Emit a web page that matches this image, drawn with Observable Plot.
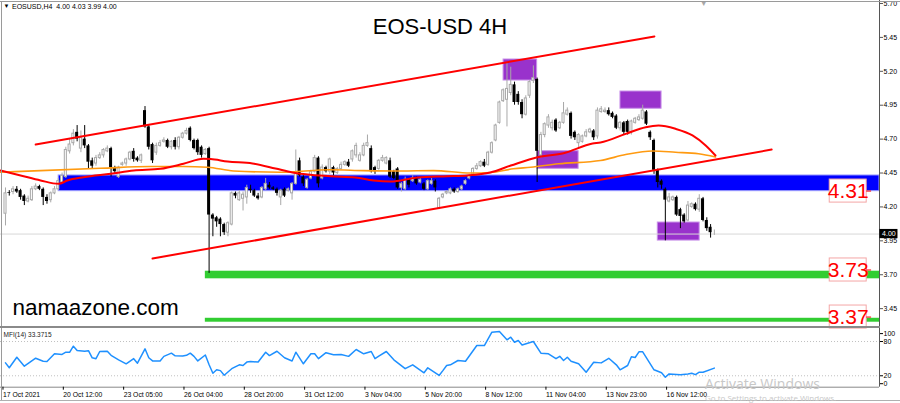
<!DOCTYPE html>
<html><head><meta charset="utf-8">
<script src="https://cdn.jsdelivr.net/npm/d3@7"></script>
<script src="https://cdn.jsdelivr.net/npm/@observablehq/plot@0.6"></script>
<style>
body{margin:0;background:#fff;}
#wrap{position:relative;width:900px;height:403px;overflow:hidden;background:#fff;font-family:"Liberation Sans",Arial,sans-serif;}
#wrap svg{position:absolute;left:0;}
.ln{position:absolute;background:#9a9a9a;}
.wm{position:absolute;color:#c8c8c8;font-family:"Open Sans","Noto Sans",sans-serif;white-space:nowrap;}
</style></head><body><div id="wrap"></div>
<script>
// ---- candle data (EOSUSD H4) ----
const open = [4.15,4.305,4.31,4.33,4.32,4.28,4.24,4.25,4.33,4.35,
4.33,4.27,4.25,4.30,4.33,4.38,4.42,4.61,4.67,4.75,
4.63,4.70,4.65,4.54,4.52,4.56,4.58,4.61,4.63,4.49,
4.42,4.51,4.52,4.55,4.61,4.56,4.54,4.91,4.79,4.66,
4.60,4.65,4.68,4.69,4.64,4.69,4.64,4.71,4.74,4.78,
4.69,4.69,4.64,4.59,4.63,4.14,4.12,4.11,4.07,4.01,
4.07,4.30,4.25,4.26,4.27,4.33,4.32,4.28,4.27,4.33,
4.36,4.34,4.33,4.27,4.33,4.32,4.30,4.37,4.54,4.42,
4.34,4.41,4.46,4.56,4.41,4.49,4.46,4.49,4.45,4.48,
4.51,4.53,4.55,4.58,4.54,4.58,4.65,4.63,4.49,4.48,
4.54,4.52,4.54,4.46,4.48,4.34,4.33,4.40,4.39,4.41,
4.38,4.37,4.33,4.37,4.39,4.19,4.27,4.30,4.30,4.33,
4.31,4.33,4.37,4.41,4.44,4.48,4.50,4.53,4.51,4.60,
4.69,4.82,4.98,4.99,5.04,5.10,5.03,4.97,4.88,5.02,
5.13,5.14,4.58,4.73,4.80,4.78,4.84,4.78,4.82,4.88,
4.89,4.75,4.67,4.68,4.72,4.75,4.76,4.72,4.90,4.90,
4.91,4.89,4.87,4.78,4.82,4.83,4.75,4.82,4.84,4.85,
4.90,4.75,4.69,4.47,4.39,4.33,4.24,4.25,4.27,4.18,
4.14,4.10,4.20,4.22,4.18,4.26,4.10,4.05,4.00];
const high = [4.34,4.32,4.35,4.35,4.33,4.29,4.28,4.35,4.37,4.36,
4.34,4.29,4.31,4.35,4.41,4.45,4.64,4.70,4.77,4.80,
4.76,4.80,4.66,4.56,4.58,4.60,4.63,4.65,4.64,4.50,
4.50,4.53,4.56,4.61,4.63,4.57,4.59,4.94,4.80,4.67,
4.67,4.69,4.71,4.70,4.69,4.71,4.72,4.75,4.78,4.79,
4.70,4.70,4.65,4.63,4.64,4.15,4.13,4.12,4.08,4.09,
4.31,4.31,4.32,4.31,4.36,4.36,4.33,4.30,4.35,4.41,
4.38,4.35,4.34,4.33,4.34,4.34,4.38,4.62,4.56,4.43,
4.41,4.47,4.58,4.57,4.51,4.50,4.56,4.50,4.49,4.53,
4.54,4.55,4.62,4.67,4.60,4.67,4.73,4.65,4.50,4.55,
4.58,4.57,4.56,4.47,4.49,4.38,4.42,4.41,4.43,4.42,
4.41,4.38,4.40,4.41,4.40,4.27,4.30,4.32,4.34,4.34,
4.34,4.36,4.40,4.44,4.49,4.52,4.54,4.55,4.61,4.68,
4.81,4.98,5.07,5.26,5.23,5.12,5.05,4.99,5.02,5.13,
5.24,5.15,4.75,4.82,4.88,4.84,4.85,4.83,4.97,4.93,
4.90,4.76,4.74,4.73,4.77,4.78,4.77,4.93,4.94,4.93,
4.93,4.90,4.88,4.83,4.83,4.84,4.84,4.86,4.88,4.95,
4.91,4.76,4.70,4.48,4.40,4.34,4.30,4.28,4.28,4.19,
4.15,4.24,4.23,4.23,4.29,4.27,4.12,4.07,4.03];
const low = [4.06,4.28,4.29,4.30,4.25,4.21,4.23,4.24,4.32,4.32,
4.21,4.22,4.23,4.29,4.32,4.37,4.41,4.59,4.65,4.68,
4.60,4.63,4.48,4.48,4.50,4.55,4.56,4.60,4.42,4.44,
4.41,4.50,4.50,4.54,4.53,4.53,4.52,4.78,4.62,4.52,
4.58,4.64,4.67,4.63,4.62,4.62,4.62,4.70,4.73,4.68,
4.62,4.58,4.56,4.58,3.71,3.98,4.05,3.98,3.99,3.98,
4.06,4.26,4.24,4.17,4.22,4.30,4.27,4.25,4.26,4.32,
4.33,4.32,4.28,4.21,4.27,4.31,4.25,4.36,4.42,4.35,
4.33,4.40,4.45,4.34,4.40,4.45,4.44,4.43,4.44,4.47,
4.50,4.49,4.53,4.56,4.53,4.57,4.64,4.45,4.44,4.47,
4.53,4.51,4.41,4.40,4.33,4.31,4.32,4.34,4.38,4.36,
4.37,4.32,4.32,4.36,4.31,4.18,4.26,4.29,4.29,4.30,
4.30,4.32,4.36,4.40,4.43,4.47,4.49,4.49,4.50,4.59,
4.68,4.81,4.97,4.79,5.02,4.95,4.95,4.85,4.87,5.00,
5.11,4.38,4.56,4.71,4.78,4.76,4.75,4.77,4.81,4.87,
4.70,4.69,4.63,4.67,4.71,4.74,4.69,4.70,4.89,4.89,
4.87,4.85,4.77,4.76,4.73,4.73,4.73,4.81,4.83,4.84,
4.80,4.69,4.44,4.34,4.33,3.95,4.23,4.24,4.13,4.04,
4.08,4.09,4.19,4.17,4.16,4.09,4.02,3.97,3.99];
const close = [4.30,4.30,4.33,4.31,4.27,4.24,4.26,4.33,4.35,4.33,
4.27,4.24,4.30,4.33,4.39,4.43,4.62,4.66,4.74,4.70,
4.71,4.65,4.53,4.50,4.56,4.58,4.62,4.63,4.49,4.46,
4.49,4.52,4.55,4.60,4.55,4.54,4.58,4.79,4.64,4.54,
4.65,4.67,4.69,4.64,4.68,4.64,4.71,4.74,4.76,4.69,
4.63,4.60,4.58,4.62,4.14,4.11,4.09,4.07,4.01,4.08,
4.30,4.28,4.30,4.29,4.34,4.32,4.28,4.26,4.34,4.37,
4.34,4.33,4.30,4.32,4.28,4.33,4.37,4.45,4.43,4.37,
4.40,4.46,4.56,4.37,4.49,4.46,4.55,4.45,4.48,4.51,
4.53,4.50,4.61,4.65,4.58,4.65,4.67,4.46,4.46,4.54,
4.56,4.56,4.42,4.41,4.34,4.37,4.40,4.36,4.41,4.37,
4.40,4.33,4.39,4.39,4.34,4.26,4.29,4.31,4.33,4.31,
4.33,4.35,4.39,4.43,4.48,4.50,4.53,4.50,4.60,4.67,
4.80,4.97,5.06,5.07,5.10,4.97,4.97,4.88,5.00,5.12,
5.15,4.61,4.73,4.81,4.86,4.82,4.76,4.82,4.89,4.91,
4.72,4.71,4.73,4.72,4.75,4.77,4.71,4.91,4.92,4.91,
4.88,4.86,4.78,4.82,4.75,4.75,4.83,4.85,4.86,4.91,
4.81,4.71,4.47,4.38,4.36,4.25,4.27,4.27,4.14,4.13,
4.09,4.21,4.22,4.18,4.26,4.10,4.04,4.01,4.00];

// moving averages: [bar index, price]
const redMA = [[-1.3,4.468],[4.0,4.432],[9.3,4.395],[14.1,4.370],[16.4,4.395],[20.7,4.419],[27.9,4.444],[34.0,4.468],[41.1,4.481],[47.2,4.518],[52.5,4.555],[54.4,4.553],[58.9,4.535],[65.5,4.520],[71.6,4.483],[76.1,4.454],[86.2,4.426],[92.8,4.417],[97.6,4.395],[102.1,4.387],[109.3,4.417],[117.2,4.426],[122.5,4.432],[128.6,4.454],[134.0,4.505],[141.1,4.567],[148.0,4.596],[155.7,4.667],[157.8,4.675],[164.5,4.739],[169.8,4.788],[173.2,4.800],[177.7,4.776],[182.2,4.727],[185.7,4.653],[188.3,4.579]];
const orangeMA = [[-1.3,4.456],[9.3,4.468],[25.2,4.485],[38.5,4.498],[47.2,4.498],[53.6,4.493],[60.5,4.465],[72.9,4.456],[86.2,4.474],[95.0,4.468],[104.8,4.465],[113.5,4.468],[123.3,4.450],[128.6,4.454],[134.7,4.481],[139.3,4.493],[146.7,4.518],[157.8,4.542],[164.5,4.586],[171.6,4.612],[177.7,4.603],[183.8,4.592],[188.3,4.568]];

// drawn objects
const upperChannel = [[8, 4.660],[172.1, 5.457]];
const lowerChannel = [[39, 3.820],[203.2, 4.623]];
const blueZone = [{x1:14.1, x2:231.8, y1:4.316, y2:4.432}];
const greenLevels = [{x1:53, x2:231.8, y1:3.670, y2:3.726},{x1:53, x2:231.8, y1:3.350, y2:3.379}];
const purpleBoxes = [{x1:132.1,x2:141.0,y1:5.132,y2:5.287},{x1:163.1,x2:174.0,y1:4.924,y2:5.051},{x1:141.1,x2:152.0,y1:4.481,y2:4.611},{x1:173.0,x2:184.1,y1:3.952,y2:4.085}];
const levelLabels = ["4.31","3.73","3.37"];
const levelLabelAt = [4.317, 3.735, 3.388];

// axes
const yTicks = [5.70,5.45,5.20,4.95,4.70,4.45,4.20,3.95,3.70,3.45];
const dateLabels = ["17 Oct 2021","20 Oct 12:00","23 Oct 05:00","26 Oct 04:00","28 Oct 20:00","31 Oct 12:00","3 Nov 04:00","5 Nov 20:00","8 Nov 12:00","11 Nov 04:00","13 Nov 23:00","16 Nov 12:00"];
const dateIdx = [0,16,32,48,64,80,96,112,128,144,160,176];

// MFI(14): [bar index, value]
const mfiPoints = [[0,42.6],[1,34],[3,52.5],[5,36.8],[8,50.8],[10,45.5],[11,45],[13,58.5],[15,57.4],[16,61.3],[17,61],[18,71.8],[19,64.3],[21,63],[22,64],[23,51.5],[24,50],[25,62.5],[27,63],[28,55.8],[30,48],[32,41],[34,50],[35,42],[37,67.2],[38,51.5],[39,46],[41,46],[42,54],[44,59.6],[45,55],[47,54.5],[48,55.8],[49,59.6],[50,54],[51,46],[53,56.4],[54,39.2],[55,24.5],[56,30.5],[57,29],[58,21],[60,32.4],[62,39.2],[63,38],[64,44],[65,45],[67,44],[69,61.3],[70,55.4],[72,63],[74,51.5],[76,46],[77,61.3],[79,41],[81,58.5],[82,58.5],[83,50],[85,60.5],[87,57],[89,57.4],[91,54],[93,66],[95,58.5],[97,62.5],[98,50],[99,54.5],[101,62.5],[103,48],[106,32.4],[108,39.2],[111,25.2],[112,34],[115,20.5],[116,29],[117,38],[118,39.2],[120,46.8],[122,45.5],[125,73],[127,73],[129,96.3],[131,97.5],[133,83],[134,87.5],[135,78.8],[136,81.7],[137,74],[140,80],[142,59.6],[144,58.5],[146,50],[147,54],[148,46.8],[149,52.5],[150,45.5],[152,41],[154,26.3],[156,43.8],[158,42.6],[160,50.6],[162,39.2],[163,30.5],[165,38],[166,53.4],[167,52],[168,62],[169,62],[172,30.5],[174,25.2],[175,17.5],[176,23.3],[179,22],[181,23.3],[182,24.5],[183,22],[184,26.3],[185,26.3],[188,33.37]];
const mfiLabel = "MFI(14) 33.3715";
const headerText = "EOSUSD,H4  4.00 4.03 3.99 4.00";
const titleText = "EOS-USD 4H";
const siteText = "namaazone.com";

// ---- build ----
const candles = open.map((o,i)=>({i, o, h:high[i], l:low[i], c:close[i]}));
const bull = candles.filter(d=>d.c>=d.o), bear = candles.filter(d=>d.c<d.o);
const lastClose = close[close.length-1];
const X_DOMAIN = [-1.326, 231.8];
const FONT = "Liberation Sans, Arial, sans-serif";
const dateMap = new Map(dateIdx.map((d,i)=>[d,dateLabels[i]]));

const main = Plot.plot({
  width: 900, height: 327, marginTop: 0, marginBottom: 0, marginLeft: 0, marginRight: 21,
  x: {domain: X_DOMAIN, axis: null},
  y: {domain: [3.311, 5.722], axis: null},
  style: {background: "transparent", fontFamily: FONT, overflow: "visible"},
  marks: [
    Plot.rect(blueZone, {x1:"x1", x2:"x2", y1:"y1", y2:"y2", fill:"#0000ff", stroke:"#a0a0ff", strokeWidth:1}),
    Plot.rect(greenLevels, {x1:"x1", x2:"x2", y1:"y1", y2:"y2", fill:"#32cd32"}),
    Plot.rect(purpleBoxes, {x1:"x1", x2:"x2", y1:"y1", y2:"y2", fill:"#9932cc", stroke:"#c890e8", strokeWidth:1}),
    Plot.ruleY([lastClose], {stroke:"#d8d8d8"}),
    Plot.ruleX(bull, {x:"i", y1:"l", y2:"h", stroke:"#a8a8a8", strokeWidth:1}),
    Plot.ruleX(bear, {x:"i", y1:"l", y2:"h", stroke:"#000", strokeWidth:1}),
    Plot.rect(bull, {x1:d=>d.i-0.27, x2:d=>d.i+0.27, y1:"o", y2:"c", fill:"#fff", stroke:"#a8a8a8", strokeWidth:1}),
    Plot.rect(bear, {x1:d=>d.i-0.4, x2:d=>d.i+0.4, y1:"c", y2:"o", fill:"#000"}),
    Plot.line(orangeMA, {x:d=>d[0], y:d=>d[1], stroke:"#ff9a10", strokeWidth:1.6, curve:"monotone-x"}),
    Plot.line(redMA, {x:d=>d[0], y:d=>d[1], stroke:"#ff0000", strokeWidth:2, curve:"monotone-x"}),
    Plot.line(upperChannel, {x:d=>d[0], y:d=>d[1], stroke:"#ff0000", strokeWidth:2}),
    Plot.line(lowerChannel, {x:d=>d[0], y:d=>d[1], stroke:"#ff0000", strokeWidth:2}),
    Plot.rect(levelLabelAt, {x1:218.6, x2:228.4, y1:d=>d-0.085, y2:d=>d+0.085, fill:"#fff", stroke:"#f4a6a6", strokeWidth:1}),
    Plot.ruleY(levelLabelAt, {x1:228.4, x2:229.7, stroke:"#ff0000"}),
    Plot.text(levelLabels, {x:223.5, y:(d,i)=>levelLabelAt[i], text:d=>d, fill:"#ff0000", fontSize:21, fontFamily:FONT}),
    Plot.ruleX([X_DOMAIN[1]], {stroke:"#555"}),
    Plot.axisY(yTicks, {anchor:"right", tickSize:3, tickPadding:1, tickFormat:d=>d.toFixed(2), fontSize:7, stroke:"#555", fill:"#000"}),
    Plot.rect([lastClose], {x1:231.9, x2:236.7, y1:d=>d-0.034, y2:d=>d+0.034, fill:"#000"}),
    Plot.text([lastClose], {x:234.3, y:d=>d, text:d=>d.toFixed(2), fill:"#fff", fontSize:7}),
    Plot.text(["▼"], {frameAnchor:"top-left", dx:3, dy:3, lineAnchor:"top", fontSize:6, fill:"#000"}),
    Plot.text([headerText], {frameAnchor:"top-left", dx:11.5, dy:3.5, lineAnchor:"top", fontSize:7, fill:"#000"}),
    Plot.text(["▼"], {x:185.2, frameAnchor:"top", dy:1, lineAnchor:"top", fontSize:7, fill:"#a8a8a8"}),
    Plot.text([titleText], {frameAnchor:"top", dy:17.5, lineAnchor:"top", fontSize:22, fill:"#000", fontFamily:FONT}),
    Plot.text([siteText], {frameAnchor:"top-left", dx:12, dy:299, lineAnchor:"top", fontSize:22.5, fill:"#000", fontFamily:FONT})
  ]
});
main.style.top = "0px";

const mfi = Plot.plot({
  width: 900, height: 76, marginTop: 0, marginBottom: 16.3, marginLeft: 0, marginRight: 21,
  x: {domain: X_DOMAIN, axis: null},
  y: {domain: [0, 104.55], axis: null},
  style: {background: "transparent", fontFamily: FONT, overflow: "visible"},
  marks: [
    Plot.ruleY([80, 20], {stroke:"#c0c0c0", strokeDasharray:"1,2"}),
    Plot.line(mfiPoints, {x:d=>d[0], y:d=>d[1], stroke:"#1e90ff", strokeWidth:1.5}),
    Plot.ruleY([0], {stroke:"#888"}),
    Plot.ruleX([X_DOMAIN[1]], {stroke:"#555"}),
    Plot.axisY([100], {anchor:"right", tickSize:3, tickPadding:1, fontSize:7, dy:3.5, fill:"#000"}),
    Plot.axisY([80, 20], {anchor:"right", tickSize:3, tickPadding:1, fontSize:7, fill:"#000"}),
    Plot.axisY([0], {anchor:"right", tickSize:3, tickPadding:1, fontSize:7, dy:-3.5, fill:"#000"}),
    Plot.axisX(dateIdx, {anchor:"bottom", tickSize:3, tickPadding:1.5, tickFormat:d=>dateMap.get(d), textAnchor:"start", fontSize:6.8, dx:-2.5, fill:"#000"}),
    Plot.text([mfiLabel], {frameAnchor:"top-left", dx:3, dy:5, lineAnchor:"top", fontSize:6.5, fill:"#222"})
  ]
});
mfi.style.top = "327px";

const wrap = document.getElementById("wrap");
wrap.appendChild(main);
wrap.appendChild(mfi);
wrap.insertAdjacentHTML("beforeend",
  '<div class="ln" style="left:0;top:1px;width:900px;height:1px"></div>' +
  '<div class="ln" style="left:1px;top:1px;width:1px;height:399px"></div>' +
  '<div class="ln" style="left:0;top:326px;width:880px;height:2px;background:#8a8a8a"></div>' +
  '<div class="ln" style="left:0;top:400px;width:900px;height:1px;background:#b0b0b0"></div>' +
  '<div class="wm" style="left:705px;top:375px;font-size:14px;line-height:17px">Activate Windows</div>' +
  '<div class="wm" style="left:705px;top:393px;font-size:8px;line-height:9px">Go to Settings to activate Windows.</div>');
</script></body></html>
